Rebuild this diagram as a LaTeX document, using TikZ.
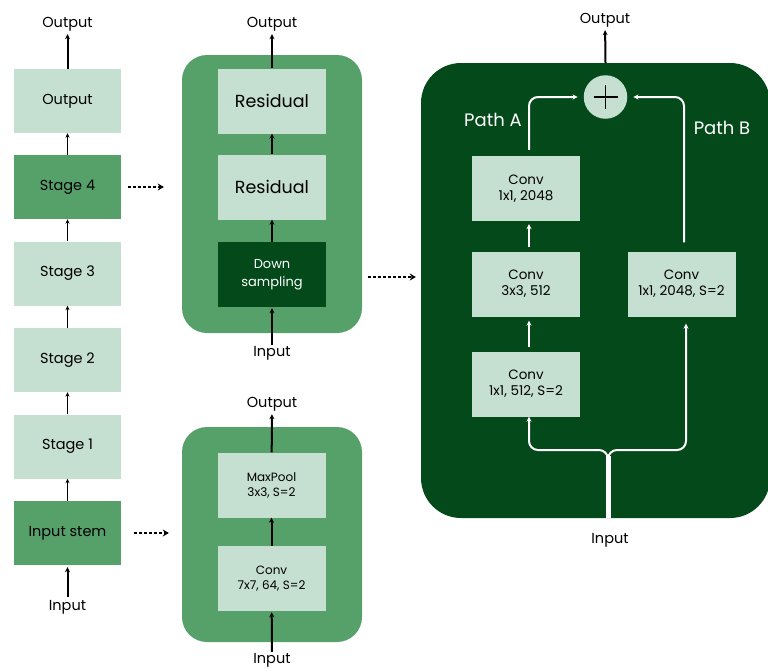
\documentclass[tikz,border=0pt]{standalone}
\usepackage{fontspec}
\setmainfont{Poppins}
\usetikzlibrary{arrows.meta,calc}
\definecolor{lightg}{HTML}{C5DFD0}
\definecolor{midg}{HTML}{56A16A}
\definecolor{darkg}{HTML}{03491A}

\begin{document}
\begin{tikzpicture}[x=1pt,y=-1pt,
  blk/.style={fill=lightg, minimum width=107pt, minimum height=64pt, inner sep=0pt, align=center, font=\fontsize{14.5}{16}\selectfont},
  sub/.style={fill=lightg, minimum width=108pt, minimum height=65pt, inner sep=0pt, align=center},
  cont/.style={fill=midg, inner sep=0pt, rounded corners=25pt},
  lbl/.style={inner sep=1pt, font=\fontsize{14.5}{16}\selectfont},
  thinarr/.style={line width=1.3pt, -{Stealth[length=4.5pt,width=4pt]}},
  thickarr/.style={line width=2pt, -{Stealth[length=5pt,width=5pt]}},
  dotarr/.style={line width=2.5pt, dash pattern=on 2.5pt off 2.5pt, -{Stealth[length=6pt,width=7pt]}},
  warr/.style={white, line width=2pt, rounded corners=9pt, -{Stealth[length=5pt,width=5pt]}},
  convtxt/.style={font=\fontsize{12}{15}\selectfont},
  convbig/.style={font=\fontsize{13.5}{16}\selectfont}
]
\useasboundingbox (0,0) rectangle (768,670);

% ---------- overall network ----------
\node[blk] (out) at (67.5,101) {Output};
\node[blk, fill=midg] (s4) at (67.5,187) {Stage 4};
\node[blk] (s3) at (67.5,273.5) {Stage 3};
\node[blk] (s2) at (67.5,360) {Stage 2};
\node[blk] (s1) at (67.5,446.5) {Stage 1};
\node[blk, fill=midg] (stem) at (67.5,533) {Input stem};
\node[lbl] (lout) at (67.5,24) {Output};
\node[lbl] (lin) at (67.5,607) {Input};

\draw[thinarr] (stem) -- (s1);
\draw[thinarr] (s1) -- (s2);
\draw[thinarr] (s2) -- (s3);
\draw[thinarr] (s3) -- (s4);
\draw[thinarr] (s4) -- (out);
\draw[thickarr, shorten >=2pt] (out) -- (lout);
\draw[thickarr, shorten <=2pt, shorten >=2pt] (lin) -- (stem);

% ---------- stage 4 ----------
\node[cont, minimum width=180pt, minimum height=278pt] (c1) at (272,194) {};
\node[sub, font=\fontsize{17.5}{20}\selectfont] (r1) at (272,101) {Residual};
\node[sub, font=\fontsize{17.5}{20}\selectfont] (r2) at (272,187) {Residual};
\node[sub, fill=darkg, text=white, font=\fontsize{13}{18}\selectfont] (ds) at (272,274.5) {Down\\sampling};
\node[lbl] (c1out) at (272,24) {Output};
\node[lbl] (c1in) at (272,353) {Input};
\draw[thickarr] (ds) -- (r2);
\draw[thickarr] (r2) -- (r1);
\draw[thickarr, shorten >=2pt] (r1) -- (c1out);
\draw[thickarr, shorten >=1pt] (c1in) -- (ds);

% ---------- input stem ----------
\node[cont, minimum width=180pt, minimum height=215pt] (c2) at (272,534.5) {};
\node[sub, convtxt] (mp) at (271.5,485) {MaxPool\\3x3, S=2};
\node[sub, convtxt] (cv) at (271.5,578.5) {Conv\\7x7, 64, S=2};
\node[lbl] (c2out) at (272,404) {Output};
\node[lbl] (c2in) at (272,660) {Input};
\draw[thickarr] (cv) -- (mp);
\draw[thickarr, shorten >=2pt] (mp) -- (c2out);
\draw[thickarr, shorten >=1pt] (c2in) -- (cv);

% ---------- bottleneck block ----------
\node[fill=darkg, inner sep=0pt, rounded corners=40pt, minimum width=349pt, minimum height=455pt] (c3) at (595.5,290.5) {};
\node[sub, convbig] (a1) at (526,188.5) {Conv\\1x1, 2048};
\node[sub, convbig] (a2) at (526,284) {Conv\\3x3, 512};
\node[sub, convbig] (a3) at (526,384) {Conv\\1x1, 512, S=2};
\node[sub, convbig] (b1) at (681.5,284) {Conv\\1x1, 2048, S=2};
\node[circle, fill=lightg, minimum size=43.5pt, inner sep=0pt] (plus) at (605.5,97) {};
\draw[line width=1.8pt] ([xshift=-12pt]plus.center) -- ([xshift=12pt]plus.center)
                        ([yshift=-12pt]plus.center) -- ([yshift=12pt]plus.center);
\node[lbl] (c3out) at (605,20) {Output};
\node[lbl] (c3in) at (610,540) {Input};
\node[lbl, text=white, font=\fontsize{18}{20}\selectfont] (pa) at (493,120) {Path A};
\node[lbl, text=white, font=\fontsize{18}{20}\selectfont] (pb) at (722,128) {Path B};

\draw[thickarr, shorten >=2pt] (c3.north -| plus) -- (c3out);
\draw[warr, shorten <=4pt, shorten >=4pt] ([xshift=3pt]a3.north) -- ([xshift=3pt]a2.south);
\draw[warr, shorten <=4pt, shorten >=3pt] ([xshift=3pt]a2.north) -- ([xshift=3pt]a1.south);
\draw[warr, shorten >=6pt] ([xshift=3pt,yshift=6pt]a1.north) |- (plus.west);
\draw[warr, shorten >=6pt] ([xshift=2.5pt,yshift=9pt]b1.north) |- (plus.east);

\coordinate (jn) at (608,450);
\coordinate (inb) at (c3.south -| jn);
\draw[warr] (inb) -- (jn) -| ([xshift=3pt]a3.south);
\draw[warr, shorten >=7pt] (inb) -- (jn) -| ([xshift=4.5pt]b1.south);
\draw[white, line width=5pt] (inb) -- ([yshift=-6pt]jn);

% ---------- links to detailed views ----------
\draw[dotarr, shorten <=7pt, shorten >=18pt] (s4.east) -- (s4.east -| c1.west);
\draw[dotarr, shorten <=13pt, shorten >=13pt] (stem.east) -- (stem.east -| c2.west);
\draw[dotarr, shorten <=6pt, shorten >=5pt] (c1.east |- 0,277) -- (c3.west |- 0,277);
\end{tikzpicture}
\end{document}
